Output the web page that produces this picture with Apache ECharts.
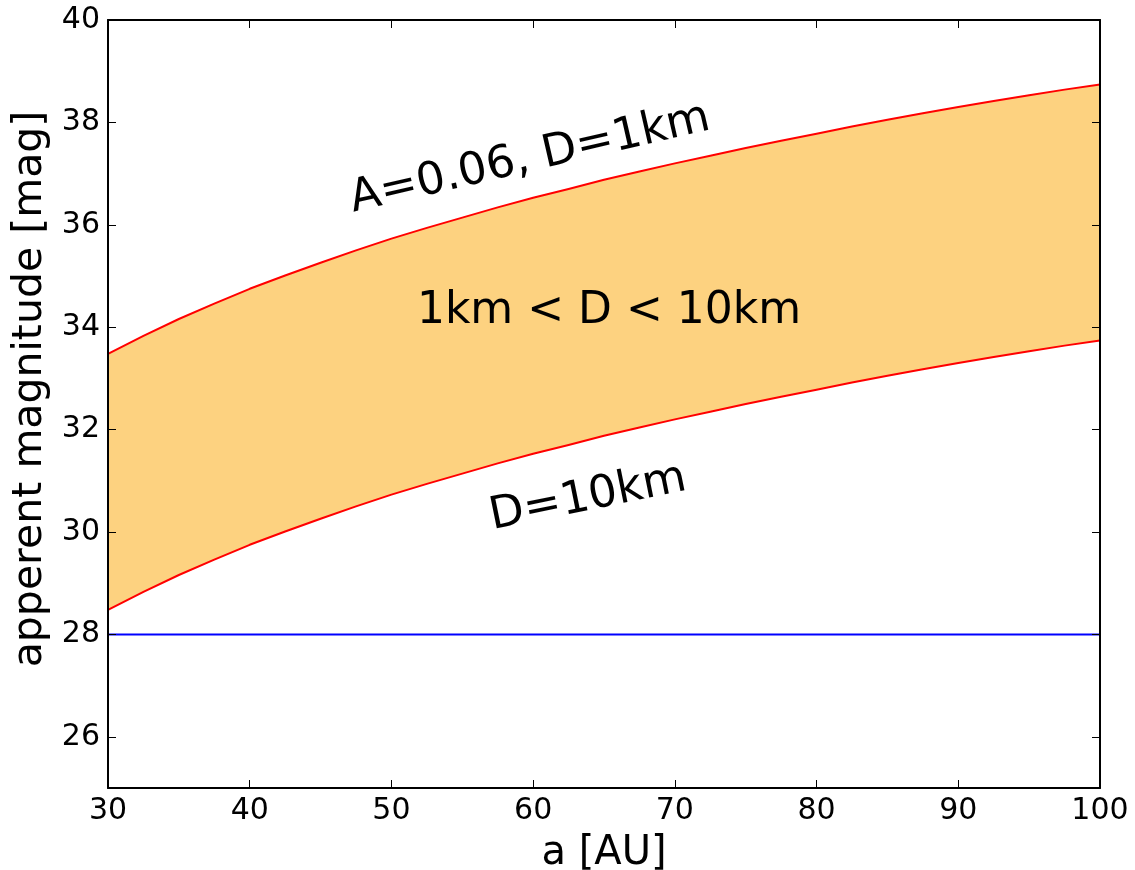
<!DOCTYPE html>
<html>
<head>
<meta charset="utf-8">
<script src="https://cdn.jsdelivr.net/npm/echarts@6/dist/echarts.min.js"></script>
<style>html,body{margin:0;padding:0;background:#fff}#c{width:1135px;height:870px}</style>
</head>
<body>
<div id="c"></div>
<script>
const aValues = [30, 32.5, 35, 37.5, 40, 42.5, 45, 47.5, 50, 52.5, 55, 57.5, 60, 62.5, 65, 67.5, 70, 72.5, 75, 77.5, 80, 82.5, 85, 87.5, 90, 92.5, 95, 97.5, 100];
const magD1km = [33.48, 33.83, 34.16, 34.46, 34.75, 35.01, 35.26, 35.50, 35.73, 35.94, 36.14, 36.34, 36.53, 36.70, 36.88, 37.04, 37.20, 37.35, 37.50, 37.64, 37.78, 37.92, 38.05, 38.18, 38.30, 38.42, 38.53, 38.64, 38.74];
const magD10km = [28.48, 28.83, 29.16, 29.46, 29.75, 30.01, 30.26, 30.50, 30.73, 30.94, 31.14, 31.34, 31.53, 31.70, 31.88, 32.04, 32.20, 32.35, 32.50, 32.64, 32.78, 32.92, 33.05, 33.18, 33.30, 33.42, 33.53, 33.64, 33.74];
const limitX = [30, 100];
const limitMag = [28, 28];
const xTicks = [30, 40, 50, 60, 70, 80, 90, 100];
const yTicks = [26, 28, 30, 32, 34, 36, 38, 40];
const labels = {
  upper: 'A=0.06, D=1km',
  band: '1km < D < 10km',
  lower: 'D=10km',
  xTitle: 'a [AU]',
  yTitle: 'apperent magnitude [mag]'
};

const FONT = 'DejaVu Sans';
const chart = echarts.init(document.getElementById('c'), null, {renderer: 'canvas'});

const pairs = (xs, ys) => xs.map((x, i) => [x, ys[i]]);

const tickStyle = {show: true, inside: true, length: 8, lineStyle: {color: '#000', width: 1}};
const lineStyleAxis = {show: true, onZero: false, lineStyle: {color: '#000', width: 2}};

chart.setOption({
  animation: false,
  backgroundColor: '#fff',
  grid: {left: 108, right: 35, top: 20, bottom: 82, containLabel: false, outerBoundsMode: 'none'},
  xAxis: [
    {
      type: 'value', min: 30, max: 100, position: 'bottom', z: 10,
      axisLine: lineStyleAxis, splitLine: {show: false},
      axisTick: Object.assign({}, tickStyle, {customValues: xTicks}),
      axisLabel: {customValues: xTicks, fontFamily: FONT, fontSize: 30, color: '#000', margin: 8},
      name: labels.xTitle, nameLocation: 'middle', nameGap: 46,
      nameTextStyle: {fontFamily: FONT, fontSize: 40, color: '#000'}
    },
    {
      type: 'value', min: 30, max: 100, position: 'top', z: 10,
      axisLine: lineStyleAxis, splitLine: {show: false},
      axisTick: Object.assign({}, tickStyle, {customValues: xTicks}),
      axisLabel: {show: false}
    }
  ],
  yAxis: [
    {
      type: 'value', min: 25, max: 40, position: 'left', z: 10,
      axisLine: lineStyleAxis, splitLine: {show: false},
      axisTick: Object.assign({}, tickStyle, {customValues: yTicks}),
      axisLabel: {customValues: yTicks, fontFamily: FONT, fontSize: 30, color: '#000', margin: 8}
    },
    {
      type: 'value', min: 25, max: 40, position: 'right', z: 10,
      axisLine: lineStyleAxis, splitLine: {show: false},
      axisTick: Object.assign({}, tickStyle, {customValues: yTicks}),
      axisLabel: {show: false}
    }
  ],
  series: [
    {
      type: 'custom', silent: true, z: 1,
      data: [[aValues[0], magD10km[0]]],
      renderItem: function (params, api) {
        const top = aValues.map((x, i) => api.coord([x, magD1km[i]]));
        const bottom = aValues.map((x, i) => api.coord([x, magD10km[i]])).reverse();
        return {type: 'polygon', shape: {points: top.concat(bottom)}, style: {fill: '#fdd280', stroke: null}};
      }
    },
    {
      type: 'line', data: pairs(aValues, magD1km), symbol: 'none', smooth: false,
      lineStyle: {color: '#ff0000', width: 2, join: 'round'}, z: 3
    },
    {
      type: 'line', data: pairs(aValues, magD10km), symbol: 'none', smooth: false,
      lineStyle: {color: '#ff0000', width: 2, join: 'round'}, z: 3
    },
    {
      type: 'line', data: pairs(limitX, limitMag), symbol: 'none',
      lineStyle: {color: '#0000ff', width: 2}, z: 3
    }
  ],
  graphic: [
    {type: 'text', x: 30, y: 389, rotation: Math.PI / 2, z: 10,
      style: {text: labels.yTitle, font: '41px "DejaVu Sans"', fill: '#000', align: 'center', verticalAlign: 'middle'}},
    {type: 'text', x: 530, y: 159, rotation: 13 * Math.PI / 180, z: 10,
      style: {text: labels.upper, font: '45px "DejaVu Sans"', fill: '#000', align: 'center', verticalAlign: 'middle'}},
    {type: 'text', x: 609, y: 312, z: 10,
      style: {text: labels.band, font: '44px "DejaVu Sans"', fill: '#000', align: 'center', verticalAlign: 'middle'}},
    {type: 'text', x: 588, y: 498, rotation: 11.5 * Math.PI / 180, z: 10,
      style: {text: labels.lower, font: '45px "DejaVu Sans"', fill: '#000', align: 'center', verticalAlign: 'middle'}}
  ]
});
</script>
</body>
</html>
